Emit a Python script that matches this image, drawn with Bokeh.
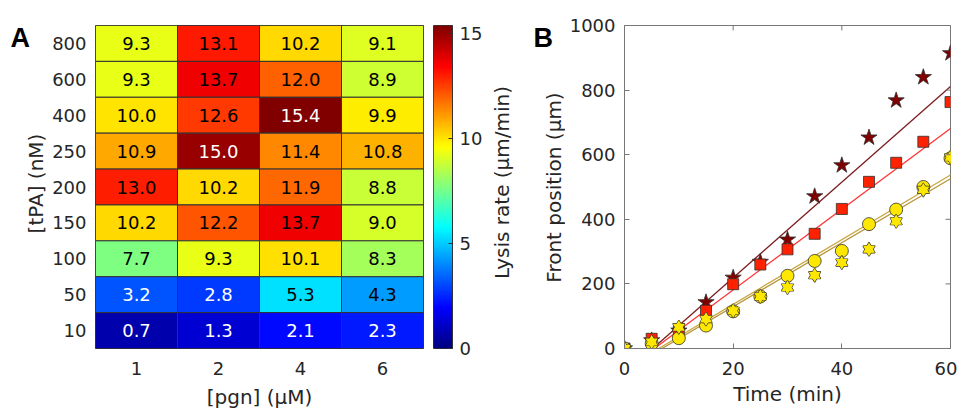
import numpy as np
from bokeh.plotting import figure
from bokeh.layouts import row
from bokeh.models import (ColumnDataSource, LinearColorMapper, Range1d, FixedTicker, Label)
from bokeh.core.properties import value
from bokeh.embed import file_html
from bokeh.resources import INLINE

# ---------------- data ----------------
pgn = ["1", "2", "4", "6"]
tpa = ["800", "600", "400", "250", "200", "150", "100", "50", "10"]  # top -> bottom
rate_800 = [9.3, 13.1, 10.2, 9.1]
rate_600 = [9.3, 13.7, 12.0, 8.9]
rate_400 = [10.0, 12.6, 15.4, 9.9]
rate_250 = [10.9, 15.0, 11.4, 10.8]
rate_200 = [13.0, 10.2, 11.9, 8.8]
rate_150 = [10.2, 12.2, 13.7, 9.0]
rate_100 = [7.7, 9.3, 10.1, 8.3]
rate_50 = [3.2, 2.8, 5.3, 4.3]
rate_10 = [0.7, 1.3, 2.1, 2.3]
rates = [rate_800, rate_600, rate_400, rate_250, rate_200, rate_150, rate_100, rate_50, rate_10]
cbar_ticks = [0, 5, 10, 15]

time_min = [0, 5, 10, 15, 20, 25, 30, 35, 40, 45, 50, 55, 60]
front_star = [0, 25, 55, 143, 219, 268, 337, 471, 567, 653, 768, 840, 914]
front_square = [0, 30, 52, 117, 199, 260, 307, 355, 432, 516, 575, 640, 763]
front_circle = [0, 15, 32, 71, 115, 161, 225, 271, 302, 385, 430, 500, 589]
front_hexagram = [0, 20, 66, 91, 117, 161, 189, 227, 266, 307, 394, 491, 592]
# linear fits: slope (um/min) and lag time (min)
fit_slope = [14.8, 12.5, 10.0, 9.9]
fit_lag = [5.2, 5.5, 6.3, 6.9]
x_ticks_b = [0, 20, 40, 60]
y_ticks_b = [0, 200, 400, 600, 800, 1000]
x_max_b = 60
y_max_b = 1000

# ---------------- style ----------------
FONT = "DejaVu Sans"
TXT = "#262626"
H = 416


def jet(n=256):
    x = np.linspace(0, 1, n)
    r = np.clip(1.5 - np.abs(4 * x - 3), 0, 1)
    g = np.clip(1.5 - np.abs(4 * x - 2), 0, 1)
    b = np.clip(1.5 - np.abs(4 * x - 1), 0, 1)
    return ["#%02x%02x%02x" % (int(round(rr * 255)), int(round(gg * 255)), int(round(bb * 255)))
            for rr, gg, bb in zip(r, g, b)]


def text_strip(width):
    """A figure without axes whose frame is the whole canvas; holds free labels."""
    f = figure(width=width, height=H, x_range=Range1d(0, 1), y_range=Range1d(0, 1),
               output_backend="svg", toolbar_location=None,
               x_axis_location=None, y_axis_location=None,
               min_border_left=0, min_border_right=0, min_border_top=0, min_border_bottom=0)
    f.grid.visible = False
    f.outline_line_color = None
    return f


def panel_letter(fig, txt, x, y):
    fig.add_layout(Label(x=x, y=y, x_units="canvas", y_units="canvas", text=txt,
                         text_font="Liberation Sans", text_font_style="bold",
                         text_font_size="27px", text_baseline="alphabetic", text_align="left",
                         text_color="black"))


def vertical_label(fig, txt, x, y):
    fig.add_layout(Label(x=x, y=y, x_units="canvas", y_units="canvas", text=txt,
                         angle=np.pi / 2, text_font=FONT, text_font_size="20px",
                         text_align="center", text_baseline="middle", text_color=TXT))


vmax = max(max(r) for r in rates)
mapper = LinearColorMapper(palette=jet(), low=0, high=vmax)

# ---------------- left strip: "A" and [tPA] label ----------------
pl = text_strip(48)
panel_letter(pl, "A", 10, 37)
vertical_label(pl, "[tPA] (nM)", 35, 183)

# ---------------- Panel A: heatmap ----------------
xs, ys, vals, labs, tcols = [], [], [], [], []
for i, t in enumerate(tpa):
    for j, g in enumerate(pgn):
        v = rates[i][j]
        xs.append(g)
        ys.append(t)
        vals.append(v)
        labs.append("%.1f" % v)
        tcols.append("white" if (v < 3.6 or v > 14.5) else "black")
src = ColumnDataSource(dict(x=xs, y=ys, v=vals, lab=labs, tc=tcols))

pa = figure(width=385, height=H, x_range=pgn, y_range=list(reversed(tpa)),
            output_backend="svg", toolbar_location=None,
            min_border_left=47, min_border_right=10, min_border_top=19, min_border_bottom=68)
pa.rect(x="x", y="y", width=1, height=1, source=src,
        fill_color={"field": "v", "transform": mapper}, line_color="#333333", line_width=1)
pa.text(x="x", y="y", text="lab", text_color="tc", source=src, text_align="center",
        text_baseline="middle", text_font=value(FONT), text_font_size="18px")
pa.grid.visible = False
pa.outline_line_color = "#333333"
for ax in (pa.xaxis[0], pa.yaxis[0]):
    ax.axis_line_color = None
    ax.major_tick_line_color = None
    ax.major_tick_out = 0
    ax.major_tick_in = 0
    ax.minor_tick_line_color = None
    ax.major_label_text_font = FONT
    ax.major_label_text_font_size = "18px"
    ax.major_label_text_color = TXT
    ax.axis_label_text_font = FONT
    ax.axis_label_text_font_size = "20px"
    ax.axis_label_text_font_style = "normal"
    ax.axis_label_text_color = TXT
pa.xaxis.axis_label = "[pgn] (μM)"
pa.xaxis.major_label_standoff = 13
pa.xaxis.axis_label_standoff = 7
pa.yaxis.major_label_standoff = 9

# ---------------- colorbar ----------------
pc = figure(width=52, height=H, x_range=Range1d(0, 1), y_range=Range1d(0, vmax),
            output_backend="svg", toolbar_location=None, x_axis_location=None,
            y_axis_location="right",
            min_border_left=0, min_border_right=30, min_border_top=20, min_border_bottom=68)
grad = np.linspace(0, vmax, 256).reshape(256, 1)
pc.image(image=[grad], x=0, y=0, dw=1, dh=vmax, color_mapper=mapper)
pc.grid.visible = False
pc.outline_line_color = "#333333"
yc = pc.yaxis[0]
yc.ticker = FixedTicker(ticks=cbar_ticks)
yc.major_tick_in = 4
yc.major_tick_out = 0
yc.minor_tick_line_color = None
yc.axis_line_color = "#333333"
yc.major_tick_line_color = "#333333"
yc.major_label_text_font = FONT
yc.major_label_text_font_size = "18px"
yc.major_label_text_color = TXT
yc.major_label_standoff = 7

# ---------------- middle strip: colorbar label, "B", Front position label ----------------
pm = text_strip(80)
vertical_label(pm, "Lysis rate (μm/min)", 16, 182)
panel_letter(pm, "B", 48, 37)
vertical_label(pm, "Front position (μm)", 68, 187)

# ---------------- Panel B ----------------
pb = figure(width=392, height=H, x_range=Range1d(0, x_max_b), y_range=Range1d(0, y_max_b),
            output_backend="svg", toolbar_location=None,
            min_border_left=59, min_border_right=7, min_border_top=25, min_border_bottom=66)
pb.grid.visible = False
pb.outline_line_color = "#777777"

fit_colors = ["#7b1c1c", "#ff3535", "#c9a640", "#b4953a"]
for s, lag, c in zip(fit_slope, fit_lag, fit_colors):
    tt = np.array([lag, time_min[-1]])
    pb.line(tt, s * (tt - lag), line_color=c, line_width=1.3)

EDGE = "#303030"
pb.scatter(time_min, front_star, marker="star", size=17, fill_color="#800000",
           line_color=EDGE, line_width=0.8)
pb.scatter(time_min, front_square, marker="square", size=11, fill_color="#ff2200",
           line_color=EDGE, line_width=0.8)
pb.scatter(time_min, front_circle, marker="circle", size=13, fill_color="#ffe800",
           line_color=EDGE, line_width=0.8)
# six-pointed star from two triangles: outlines first, then fills
for mk in ("triangle", "inverted_triangle"):
    pb.scatter(time_min, front_hexagram, marker=mk, size=12, fill_color="#ffe800",
               line_color=EDGE, line_width=1.2)
for mk in ("triangle", "inverted_triangle"):
    pb.scatter(time_min, front_hexagram, marker=mk, size=12, fill_color="#ffe800",
               line_color=None)

for ax in (pb.xaxis[0], pb.yaxis[0]):
    ax.axis_line_color = "#777777"
    ax.major_tick_line_color = "#777777"
    ax.major_tick_in = 5
    ax.major_tick_out = 0
    ax.minor_tick_line_color = None
    ax.major_label_text_font = FONT
    ax.major_label_text_font_size = "18px"
    ax.major_label_text_color = TXT
    ax.axis_label_text_font = FONT
    ax.axis_label_text_font_size = "20px"
    ax.axis_label_text_font_style = "normal"
    ax.axis_label_text_color = TXT
pb.xaxis.ticker = FixedTicker(ticks=x_ticks_b)
pb.yaxis.ticker = FixedTicker(ticks=y_ticks_b)
pb.xaxis.axis_label = "Time (min)"
pb.xaxis.major_label_standoff = 13
pb.xaxis.axis_label_standoff = 4
pb.yaxis.major_label_standoff = 9

# inward ticks on the top and right edges of the box (5 px long)
frame_w, frame_h = 392 - 59 - 7, H - 25 - 66
tick_dx = 5 * x_max_b / frame_w
tick_dy = 5 * y_max_b / frame_h
pb.segment(x0=x_ticks_b, y0=[y_max_b] * len(x_ticks_b), x1=x_ticks_b,
           y1=[y_max_b - tick_dy] * len(x_ticks_b), line_color="#777777", line_width=1)
pb.segment(x0=[x_max_b] * len(y_ticks_b), y0=y_ticks_b, x1=[x_max_b - tick_dx] * len(y_ticks_b),
           y1=y_ticks_b, line_color="#777777", line_width=1)

layout = row(pl, pa, pc, pm, pb)
open("out.html", "w").write(file_html(layout, INLINE))
